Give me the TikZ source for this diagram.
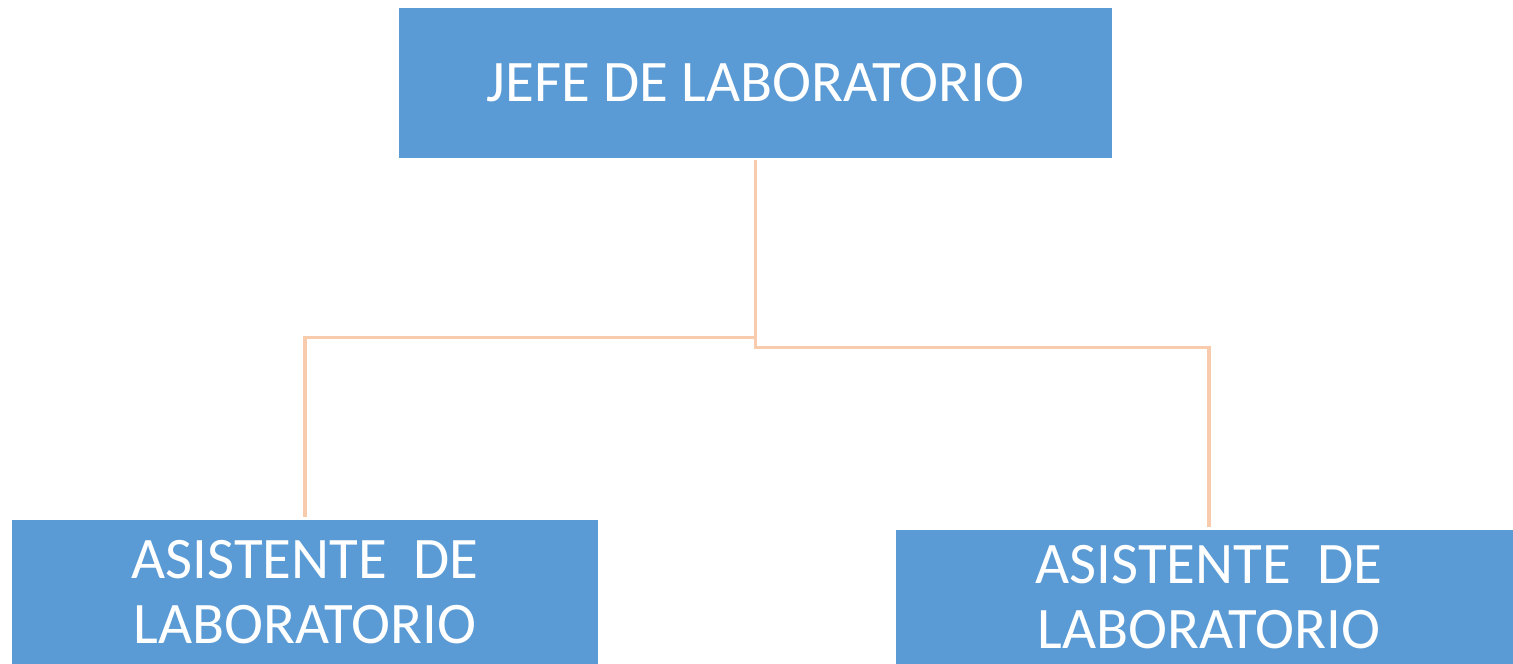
\documentclass[tikz,border=0pt]{standalone}
\usepackage{fontspec}
\setmainfont{Carlito}
\definecolor{boxblue}{HTML}{5B9BD5}
\definecolor{peach}{HTML}{F8CBAD}

\tikzset{
  rolebox/.style={draw=none,fill=boxblue,text=white,align=center,inner sep=0pt,font=\fontsize{33.5}{36.8}\selectfont},
  link/.style={line width=1.8pt,peach,shorten <=0.04cm,shorten >=0.06cm}
}

\begin{document}
\begin{tikzpicture}[x=0.02cm,y=-0.02cm]

% page frame
\useasboundingbox (0,0) rectangle (1513,663);
\clip (0,0) rectangle (1513,663);

% boxes
\node [rolebox,minimum width=14.26cm,minimum height=3cm] (jefe) at (755.5,83) {JEFE DE LABORATORIO};
\node [rolebox,minimum width=11.72cm,minimum height=2.874cm] (asisL) at (305,591.85) {ASISTENTE\ \ DE\\LABORATORIO};
\node [rolebox,minimum width=12.52cm,minimum height=2.694cm] (asisR) at (1209,597.35) {ASISTENTE\ \ DE\\LABORATORIO};

% connectors
\draw [link] (jefe.south) -- ++(0,179) -| (asisL.north);
\draw [link] (jefe.south) -- ++(0,189) -| (asisR.north);

\end{tikzpicture}
\end{document}
